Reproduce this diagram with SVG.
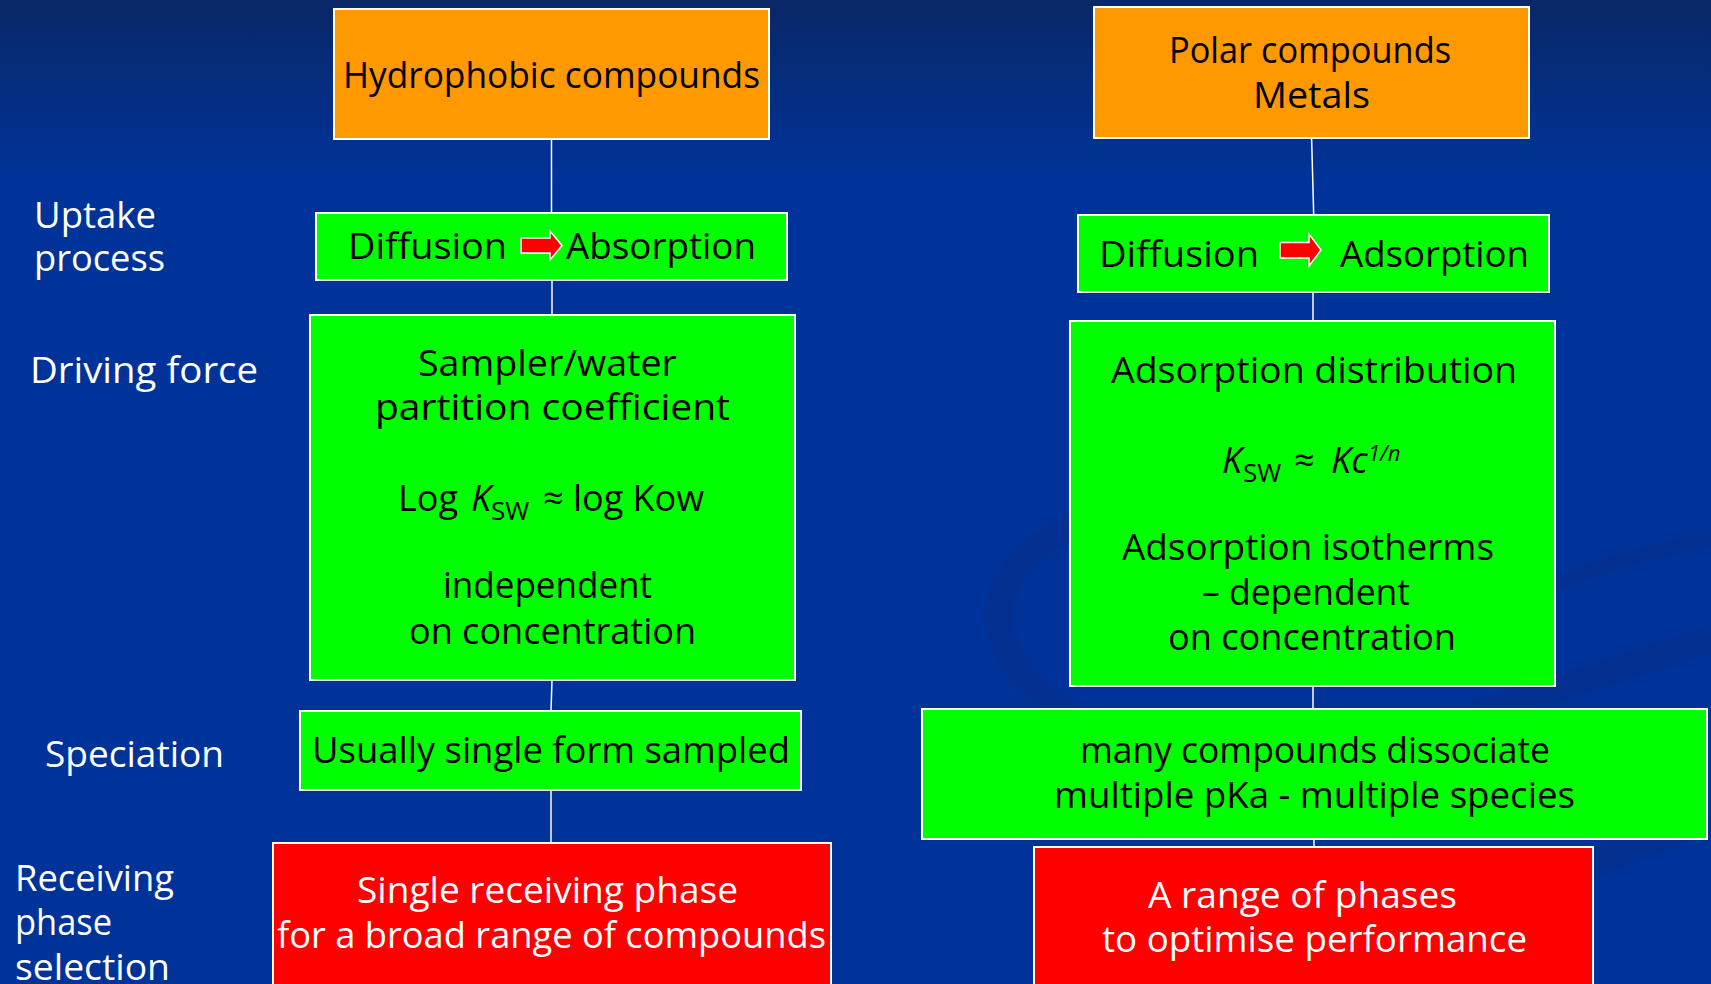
<svg xmlns="http://www.w3.org/2000/svg" width="1711" height="984" viewBox="0 0 1711 984">
<defs>
<linearGradient id="bg" x1="0" y1="0" x2="0" y2="1">
<stop offset="0" stop-color="#0a2766"/>
<stop offset="0.18" stop-color="#003399"/>
<stop offset="1" stop-color="#003399"/>
</linearGradient>
<style>
.t{font-family:"Open Sans","Liberation Sans",sans-serif;font-size:36px;fill:#000}
.w{fill:#fff}
.box{stroke:#fff;stroke-width:2}
.org{fill:#ff9900}
.grn{fill:#00ff00}
.red{fill:#ff0000}
.con line{stroke:#fff;stroke-width:1.5}
.arr{fill:#ff0000;stroke:#fff;stroke-width:1.5}
</style>
</defs>
<rect width="1711" height="984" fill="url(#bg)"/>
<g id="swirl" fill="none" stroke="#0a2a80" stroke-opacity="0.3">
<path d="M1711,640 C1500,700 1250,820 1080,720 C960,650 980,560 1090,520" stroke-width="26"/>
<path d="M1711,540 C1600,560 1500,600 1450,640" stroke-width="14"/>
<path d="M1711,820 C1640,840 1600,860 1560,880" stroke-width="30"/>
</g>
<g id="labels" class="t w">
<text x="34" y="228" textLength="122" lengthAdjust="spacingAndGlyphs">Uptake</text>
<text x="34" y="271" textLength="131" lengthAdjust="spacingAndGlyphs">process</text>
<text x="30" y="383" textLength="228" lengthAdjust="spacingAndGlyphs">Driving force</text>
<text x="45" y="767" textLength="179" lengthAdjust="spacingAndGlyphs">Speciation</text>
<text x="15" y="891" textLength="159" lengthAdjust="spacingAndGlyphs">Receiving</text>
<text x="15" y="935" textLength="97" lengthAdjust="spacingAndGlyphs">phase</text>
<text x="15" y="980" textLength="155" lengthAdjust="spacingAndGlyphs">selection</text>
</g>
<g id="connectors" class="con">
<line x1="551.5" y1="139" x2="551.5" y2="213"/>
<line x1="552" y1="280" x2="552" y2="315"/>
<line x1="552" y1="680" x2="551" y2="711"/>
<line x1="551" y1="790" x2="551" y2="843"/>
<line x1="1311.6" y1="138" x2="1313.7" y2="215"/>
<line x1="1313" y1="292" x2="1313" y2="321"/>
<line x1="1313" y1="686" x2="1313" y2="709"/>
<line x1="1314" y1="839" x2="1314" y2="847"/>
</g>
<g id="hydrophobic">
<rect class="box org" x="334" y="9" width="435" height="130"/>
<text class="t" x="343" y="88" textLength="417" lengthAdjust="spacingAndGlyphs">Hydrophobic compounds</text>
</g>
<g id="polar">
<rect class="box org" x="1094" y="7" width="435" height="131"/>
<text class="t" x="1169" y="63" textLength="282" lengthAdjust="spacingAndGlyphs">Polar compounds</text>
<text class="t" x="1253" y="108" textLength="117" lengthAdjust="spacingAndGlyphs">Metals</text>
</g>
<g id="uptake-left">
<rect class="box grn" x="316" y="213" width="471" height="67"/>
<text class="t" x="348" y="259" textLength="159" lengthAdjust="spacingAndGlyphs">Diffusion</text>
<path class="arr" d="M521,238 H550 V231 L562,245.5 L550,260 V253 H521 Z"/>
<text class="t" x="566" y="259" textLength="190" lengthAdjust="spacingAndGlyphs">Absorption</text>
</g>
<g id="uptake-right">
<rect class="box grn" x="1078" y="215" width="471" height="77"/>
<text class="t" x="1099" y="267" textLength="160" lengthAdjust="spacingAndGlyphs">Diffusion</text>
<path class="arr" d="M1280,242.5 H1309 V234 L1321,250 L1309,266 V258 H1280 Z"/>
<text class="t" x="1340" y="267" textLength="189" lengthAdjust="spacingAndGlyphs">Adsorption</text>
</g>
<g id="driving-left">
<rect class="box grn" x="310" y="315" width="485" height="365"/>
<text class="t" x="418" y="376" textLength="259" lengthAdjust="spacingAndGlyphs">Sampler/water</text>
<text class="t" x="375" y="420" textLength="355" lengthAdjust="spacingAndGlyphs">partition coefficient</text>
<text class="t" y="511"><tspan x="398">Log</tspan><tspan x="471" font-style="italic">K</tspan><tspan x="491" dy="9" font-size="26">SW</tspan><tspan x="543" dy="-9">≈ log Kow</tspan></text>
<text class="t" x="443" y="598" textLength="209" lengthAdjust="spacingAndGlyphs">independent</text>
<text class="t" x="409" y="644" textLength="287" lengthAdjust="spacingAndGlyphs">on concentration</text>
</g>
<g id="driving-right">
<rect class="box grn" x="1070" y="321" width="485" height="365"/>
<text class="t" x="1111" y="383" textLength="406" lengthAdjust="spacingAndGlyphs">Adsorption distribution</text>
<text class="t" y="473"><tspan x="1222" font-style="italic">K</tspan><tspan x="1243" dy="9" font-size="26">SW</tspan><tspan x="1294" dy="-9">≈</tspan><tspan x="1331" font-style="italic">Kc</tspan><tspan x="1368" dy="-12" font-size="22" font-style="italic">1/n</tspan></text>
<text class="t" x="1122" y="560" textLength="372" lengthAdjust="spacingAndGlyphs">Adsorption isotherms</text>
<text class="t" x="1202" y="605" textLength="208" lengthAdjust="spacingAndGlyphs">– dependent</text>
<text class="t" x="1168" y="650" textLength="288" lengthAdjust="spacingAndGlyphs">on concentration</text>
</g>
<g id="speciation-left">
<rect class="box grn" x="300" y="711" width="501" height="79"/>
<text class="t" x="312" y="763" textLength="478" lengthAdjust="spacingAndGlyphs">Usually single form sampled</text>
</g>
<g id="speciation-right">
<rect class="box grn" x="922" y="709" width="785" height="130"/>
<text class="t" x="1080" y="763" textLength="470" lengthAdjust="spacingAndGlyphs">many compounds dissociate</text>
<text class="t" x="1054" y="808" textLength="521" lengthAdjust="spacingAndGlyphs">multiple pKa - multiple species</text>
</g>
<g id="receiving-left">
<rect class="box red" x="273" y="843" width="558" height="160"/>
<text class="t w" x="357" y="903" textLength="381" lengthAdjust="spacingAndGlyphs">Single receiving phase</text>
<text class="t w" x="277" y="948" textLength="549" lengthAdjust="spacingAndGlyphs">for a broad range of compounds</text>
</g>
<g id="receiving-right">
<rect class="box red" x="1034" y="847" width="559" height="160"/>
<text class="t w" x="1148" y="908" textLength="309" lengthAdjust="spacingAndGlyphs">A range of phases</text>
<text class="t w" x="1102" y="952" textLength="425" lengthAdjust="spacingAndGlyphs">to optimise performance</text>
</g>
</svg>
